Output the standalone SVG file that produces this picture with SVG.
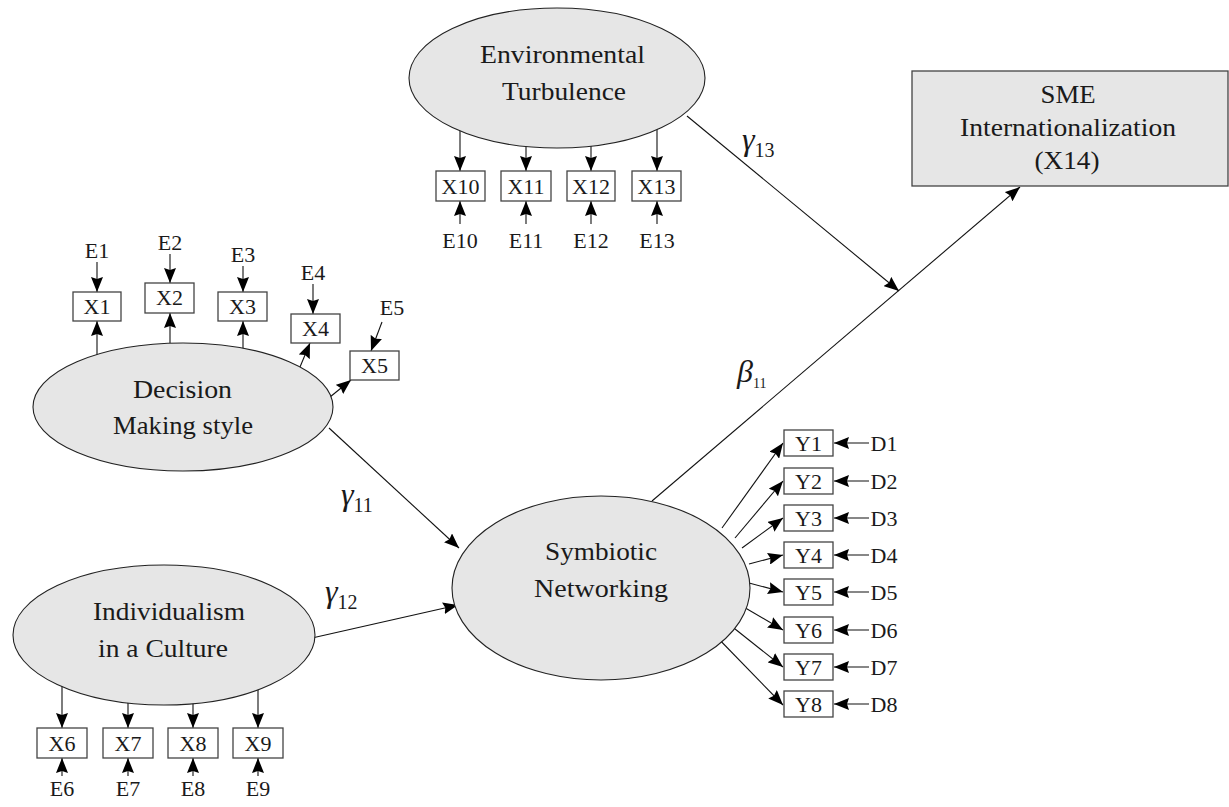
<svg xmlns="http://www.w3.org/2000/svg" width="1229" height="807" viewBox="0 0 1229 807">
<style>
text{font-family:"Liberation Serif","Tinos","DejaVu Serif",serif;fill:#1a1a1a}
.big{font-size:25px;text-anchor:middle}
.lbl{font-size:22px;text-anchor:middle}
.lat{fill:#e6e6e6;stroke:#222;stroke-width:1.1}
.box{fill:#fff;stroke:#444;stroke-width:1.3}
.ln{stroke:#111;stroke-width:1.1;fill:none;marker-end:url(#ah)}
.gk{font-style:italic;font-size:32px}
.sub{font-size:20px}
</style>
<defs>
<marker id="ah" markerUnits="userSpaceOnUse" markerWidth="15" markerHeight="12" refX="15" refY="6" orient="auto">
<path d="M0,0 L15,6 L0,12 L2,6 z" fill="#000"/>
</marker>
</defs>
<rect width="1229" height="807" fill="#fff"/>

<g id="connectors">
<line class="ln" x1="460" y1="130" x2="460" y2="171"/>
<line class="ln" x1="526" y1="145" x2="526" y2="171"/>
<line class="ln" x1="591" y1="146" x2="591" y2="171"/>
<line class="ln" x1="657" y1="128" x2="657" y2="171"/>
<line class="ln" x1="460" y1="224" x2="460" y2="201"/>
<line class="ln" x1="526" y1="224" x2="526" y2="201"/>
<line class="ln" x1="591" y1="224" x2="591" y2="201"/>
<line class="ln" x1="657" y1="224" x2="657" y2="201"/>
<line class="ln" x1="97" y1="356" x2="97" y2="321"/>
<line class="ln" x1="170" y1="343" x2="170" y2="313"/>
<line class="ln" x1="243" y1="350" x2="243" y2="321"/>
<line class="ln" x1="300" y1="367" x2="310" y2="343"/>
<line class="ln" x1="330" y1="397" x2="351" y2="380"/>
<line class="ln" x1="97" y1="262" x2="97" y2="292"/>
<line class="ln" x1="170" y1="254" x2="170" y2="283"/>
<line class="ln" x1="243" y1="266" x2="243" y2="292"/>
<line class="ln" x1="313" y1="284" x2="313" y2="314"/>
<line class="ln" x1="382" y1="322" x2="371" y2="351"/>
<line class="ln" x1="62" y1="686" x2="62" y2="728"/>
<line class="ln" x1="128" y1="702" x2="128" y2="728"/>
<line class="ln" x1="193" y1="703" x2="193" y2="728"/>
<line class="ln" x1="258" y1="686" x2="258" y2="728"/>
<line class="ln" x1="62" y1="776" x2="62" y2="758"/>
<line class="ln" x1="128" y1="776" x2="128" y2="758"/>
<line class="ln" x1="193" y1="776" x2="193" y2="758"/>
<line class="ln" x1="258" y1="776" x2="258" y2="758"/>
<line class="ln" x1="722" y1="528" x2="783" y2="443"/>
<line class="ln" x1="735" y1="538" x2="783" y2="481"/>
<line class="ln" x1="742" y1="548" x2="783" y2="518"/>
<line class="ln" x1="749" y1="564" x2="783" y2="555"/>
<line class="ln" x1="749" y1="583" x2="783" y2="592"/>
<line class="ln" x1="742" y1="606" x2="783" y2="630"/>
<line class="ln" x1="725" y1="621" x2="783" y2="667"/>
<line class="ln" x1="711" y1="631" x2="783" y2="705"/>
<line class="ln" x1="869" y1="443" x2="834" y2="443"/>
<line class="ln" x1="869" y1="481" x2="834" y2="481"/>
<line class="ln" x1="869" y1="518" x2="834" y2="518"/>
<line class="ln" x1="869" y1="555" x2="834" y2="555"/>
<line class="ln" x1="869" y1="592" x2="834" y2="592"/>
<line class="ln" x1="869" y1="630" x2="834" y2="630"/>
<line class="ln" x1="869" y1="667" x2="834" y2="667"/>
<line class="ln" x1="869" y1="704" x2="834" y2="704"/>
<line class="ln" x1="329" y1="428" x2="459" y2="548"/>
<line class="ln" x1="312" y1="638" x2="458" y2="605"/>
<line class="ln" x1="652" y1="501" x2="1020" y2="187"/>
<line class="ln" x1="687" y1="116" x2="899" y2="291"/>
</g>

<g id="env">
<ellipse class="lat" cx="557" cy="78" rx="148" ry="70"/>
<text class="big" x="562.5" y="63" textLength="165" lengthAdjust="spacingAndGlyphs">Environmental</text>
<text class="big" x="564" y="100" textLength="124" lengthAdjust="spacingAndGlyphs">Turbulence</text>
</g>
<g id="sme">
<rect x="912" y="71" width="316" height="115" fill="#e6e6e6" stroke="#444" stroke-width="1.3"/>
<text class="big" x="1068" y="103" textLength="55" lengthAdjust="spacingAndGlyphs">SME</text>
<text class="big" x="1068" y="136" textLength="216" lengthAdjust="spacingAndGlyphs">Internationalization</text>
<text class="big" x="1067" y="169" textLength="65" lengthAdjust="spacingAndGlyphs">(X14)</text>
</g>
<g id="dms">
<ellipse class="lat" cx="183" cy="407" rx="150" ry="64"/>
<text class="big" x="182.5" y="398" textLength="99" lengthAdjust="spacingAndGlyphs">Decision</text>
<text class="big" x="183" y="434" textLength="140" lengthAdjust="spacingAndGlyphs">Making style</text>
</g>
<g id="ind">
<ellipse class="lat" cx="164" cy="635" rx="151" ry="70"/>
<text class="big" x="169" y="620" textLength="152" lengthAdjust="spacingAndGlyphs">Individualism</text>
<text class="big" x="163" y="657" textLength="130" lengthAdjust="spacingAndGlyphs">in a Culture</text>
</g>
<g id="sym">
<ellipse class="lat" cx="601" cy="588" rx="149" ry="92"/>
<text class="big" x="601" y="560" textLength="112" lengthAdjust="spacingAndGlyphs">Symbiotic</text>
<text class="big" x="601" y="597" textLength="134" lengthAdjust="spacingAndGlyphs">Networking</text>
</g>

<g id="xbox-env">
<rect class="box" x="436" y="171" width="49" height="30"/><text class="lbl" x="460.5" y="194">X10</text>
<rect class="box" x="501" y="171" width="50" height="30"/><text class="lbl" x="526" y="194">X11</text>
<rect class="box" x="567" y="171" width="48" height="30"/><text class="lbl" x="591" y="194">X12</text>
<rect class="box" x="632" y="171" width="49" height="30"/><text class="lbl" x="656.5" y="194">X13</text>
<text class="lbl" x="460" y="248">E10</text>
<text class="lbl" x="526" y="248">E11</text>
<text class="lbl" x="591" y="248">E12</text>
<text class="lbl" x="657" y="248">E13</text>
</g>
<g id="xbox-dms">
<rect class="box" x="73" y="292" width="48" height="29"/><text class="lbl" x="97" y="314">X1</text>
<rect class="box" x="145" y="283" width="49" height="30"/><text class="lbl" x="169.5" y="305">X2</text>
<rect class="box" x="218" y="292" width="49" height="29"/><text class="lbl" x="242.5" y="314">X3</text>
<rect class="box" x="291" y="314" width="49" height="29"/><text class="lbl" x="315.5" y="336">X4</text>
<rect class="box" x="350" y="351" width="49" height="29"/><text class="lbl" x="374.5" y="373">X5</text>
<text class="lbl" x="97" y="258">E1</text>
<text class="lbl" x="170" y="250">E2</text>
<text class="lbl" x="243" y="262">E3</text>
<text class="lbl" x="313" y="280">E4</text>
<text class="lbl" x="392" y="315">E5</text>
</g>
<g id="xbox-ind">
<rect class="box" x="37" y="728" width="50" height="30"/><text class="lbl" x="62" y="751">X6</text>
<rect class="box" x="103" y="728" width="50" height="30"/><text class="lbl" x="128" y="751">X7</text>
<rect class="box" x="168" y="728" width="50" height="30"/><text class="lbl" x="193" y="751">X8</text>
<rect class="box" x="233" y="728" width="50" height="30"/><text class="lbl" x="258" y="751">X9</text>
<text class="lbl" x="62" y="796">E6</text>
<text class="lbl" x="128" y="796">E7</text>
<text class="lbl" x="193" y="796">E8</text>
<text class="lbl" x="258" y="796">E9</text>
</g>
<g id="ybox">
<rect class="box" x="784" y="430" width="49" height="26"/><text class="lbl" x="808.5" y="451">Y1</text>
<rect class="box" x="784" y="468" width="49" height="26"/><text class="lbl" x="808.5" y="489">Y2</text>
<rect class="box" x="784" y="505" width="49" height="26"/><text class="lbl" x="808.5" y="526">Y3</text>
<rect class="box" x="784" y="542" width="49" height="26"/><text class="lbl" x="808.5" y="563">Y4</text>
<rect class="box" x="784" y="579" width="49" height="26"/><text class="lbl" x="808.5" y="600">Y5</text>
<rect class="box" x="784" y="617" width="49" height="26"/><text class="lbl" x="808.5" y="638">Y6</text>
<rect class="box" x="784" y="654" width="49" height="26"/><text class="lbl" x="808.5" y="675">Y7</text>
<rect class="box" x="784" y="691" width="49" height="26"/><text class="lbl" x="808.5" y="712">Y8</text>
<text class="lbl" x="884" y="451">D1</text>
<text class="lbl" x="884" y="489">D2</text>
<text class="lbl" x="884" y="526">D3</text>
<text class="lbl" x="884" y="563">D4</text>
<text class="lbl" x="884" y="600">D5</text>
<text class="lbl" x="884" y="638">D6</text>
<text class="lbl" x="884" y="675">D7</text>
<text class="lbl" x="884" y="712">D8</text>
</g>

<g id="path-labels">
<text x="742" y="150"><tspan class="gk">γ</tspan><tspan class="sub" dy="7">13</tspan></text>
<text x="341" y="505"><tspan class="gk">γ</tspan><tspan class="sub" dy="7">11</tspan></text>
<text x="325" y="602"><tspan class="gk">γ</tspan><tspan class="sub" dy="7">12</tspan></text>
<text x="737" y="382"><tspan class="gk" font-size="28">β</tspan><tspan font-size="14" dy="6">11</tspan></text>
</g>
</svg>
